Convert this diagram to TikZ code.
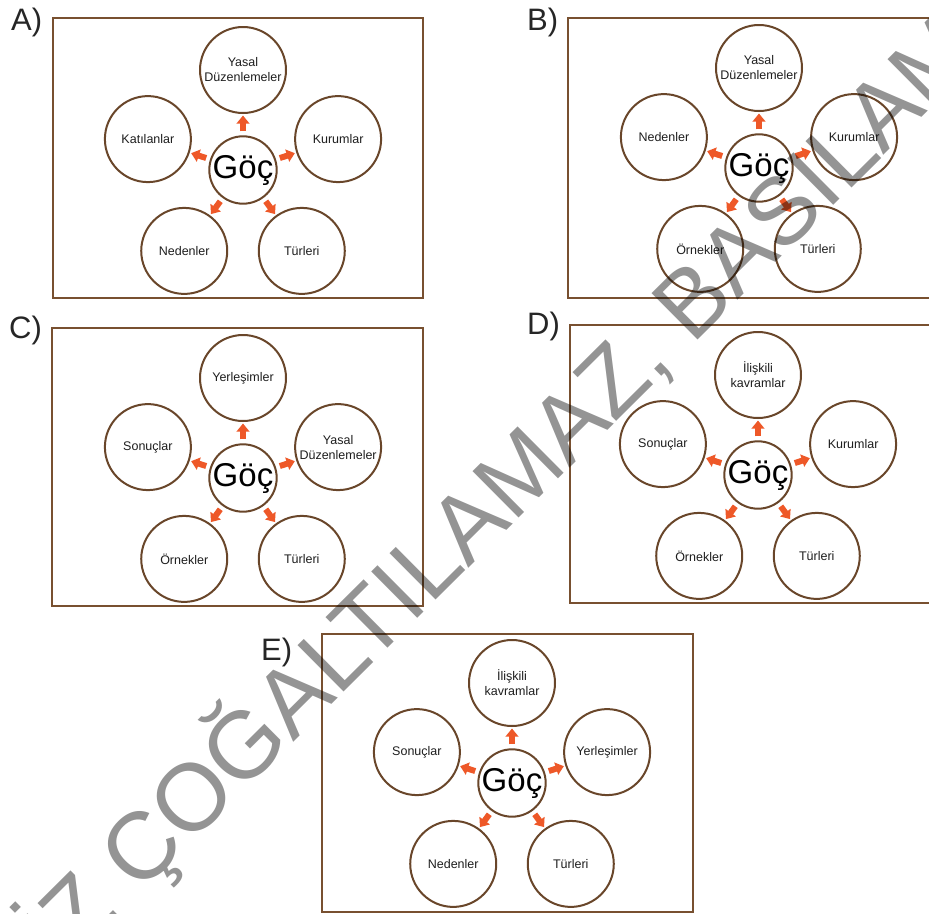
\documentclass[tikz,border=0pt]{standalone}
\usepackage{fontspec}
\setmainfont{Liberation Sans}
\usetikzlibrary{arrows.meta,calc}
\definecolor{framec}{RGB}{120,80,48}
\definecolor{circc}{RGB}{105,70,42}
\definecolor{arrc}{RGB}{238,88,40}
\definecolor{txtc}{RGB}{30,30,30}
\tikzset{
  framebox/.style={draw=framec, line width=2.4pt},
  outerc/.style={circle, draw=circc, line width=2pt, minimum size=86pt, inner sep=0pt,
    align=center, text=txtc, fill=white, font=\fontsize{12.5}{15}\selectfont},
  centerc/.style={circle, draw=circc, line width=2pt, minimum size=66pt, inner sep=0pt,
    text=black, fill=white, font=\fontsize{33}{33}\selectfont},
  arr/.style={draw=arrc, line width=6pt, -{Triangle[width=12.5pt,length=8pt]},
    shorten <=4pt, shorten >=1.5pt},
  lbl/.style={anchor=base west, inner sep=0pt, text=black!85, font=\fontsize{31}{31}\selectfont},
  wm/.style={anchor=base west, inner sep=0pt, text=black, text opacity=0.42,
    font=\fontsize{95}{95}\selectfont}
}
\newcommand\gocpanel[7]{%
  \node[centerc] (#1c) at (#2) {Göç};
  \node[outerc] (#1t) at ($(#1c.center)+(90:100)$) {#3};
  \node[outerc] (#1l) at ($(#1c.center)+(162:100)$) {#4};
  \node[outerc] (#1r) at ($(#1c.center)+(18:100)$) {#5};
  \node[outerc] (#1bl) at ($(#1c.center)+(234:100)$) {#6};
  \node[outerc] (#1br) at ($(#1c.center)+(306:100)$) {#7};
  \foreach \n in {t,l,r,bl,br} \draw[arr] (#1c) -- (#1\n);
}
\begin{document}
\begin{tikzpicture}[x=1pt,y=1pt]
\useasboundingbox (0,0) rectangle (929,-913);
\fill[white] (0,0) rectangle (929,-913);
\clip (0,0) rectangle (929,-913);
% frames
\draw[framebox] (53,-18) rectangle (423,-298);
\draw[framebox] (568,-18) rectangle (945,-298);
\draw[framebox] (52,-328) rectangle (423,-606);
\draw[framebox] (570,-325) rectangle (945,-603);
\draw[framebox] (322,-634) rectangle (693,-912);
% labels
\node[lbl] (la) at (11,-30) {A)};
\node[lbl] (lb) at (527,-30) {B)};
\node[lbl] (lc) at (9,-338) {C)};
\node[lbl] (ld) at (527,-334) {D)};
\node[lbl] (le) at (261,-660) {E)};
% panels
\gocpanel{A}{243,-170}{Yasal\\Düzenlemeler}{Katılanlar}{Kurumlar}{Nedenler}{Türleri}
\gocpanel{B}{759,-168}{Yasal\\Düzenlemeler}{Nedenler}{Kurumlar}{Örnekler}{Türleri}
\gocpanel{C}{243,-478}{Yerleşimler}{Sonuçlar}{Yasal\\Düzenlemeler}{Örnekler}{Türleri}
\gocpanel{D}{758,-475}{İlişkili\\kavramlar}{Sonuçlar}{Kurumlar}{Örnekler}{Türleri}
\gocpanel{E}{512,-783}{İlişkili\\kavramlar}{Sonuçlar}{Yerleşimler}{Nedenler}{Türleri}
% watermark
\node[wm, rotate=44.8] (wm) at (61,-973) {İZ ÇOĞALTILAMAZ, BASILAMAZ};
\end{tikzpicture}
\end{document}
